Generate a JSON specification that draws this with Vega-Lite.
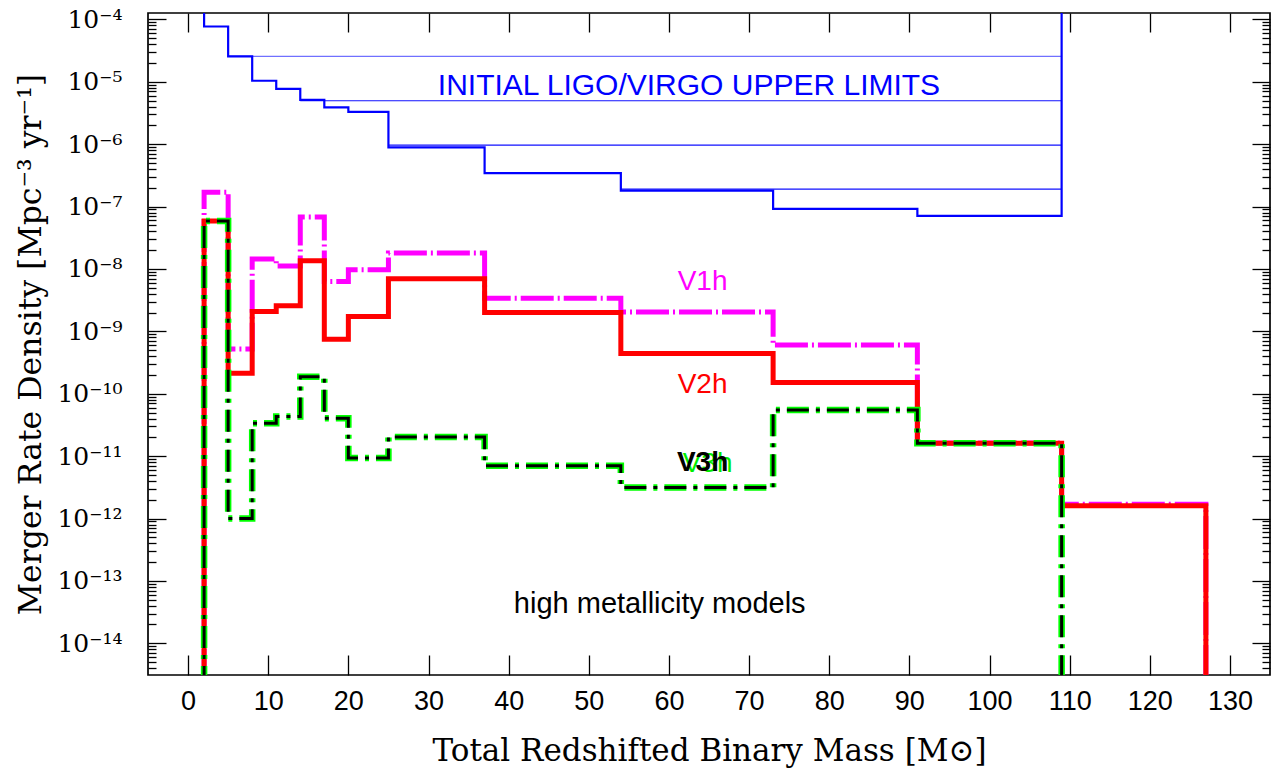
{
  "$schema": "https://vega.github.io/schema/vega-lite/v6.json",
  "width": 1122,
  "height": 662,
  "autosize": {"type": "none"},
  "padding": {"left": 148, "top": 13, "right": 4, "bottom": 98},
  "background": "white",
  "config": {"view": {"stroke": "black", "strokeWidth": 1.7}},
  "datasets": {
    "limits": [
      {"x": 5, "x2": 109, "y": 2.55e-5, "kind": "light"},
      {"x": 14, "x2": 109, "y": 4.97e-6, "kind": "dark"},
      {"x": 25, "x2": 109, "y": 9.7e-7, "kind": "dark"},
      {"x": 54, "x2": 109, "y": 1.9e-7, "kind": "dark"}
    ],
    "blue": [
      {"i": 0, "x": 2, "y": 1e-3},
      {"i": 1, "x": 2, "y": 7.7e-5},
      {"i": 2, "x": 5, "y": 2.55e-5},
      {"i": 3, "x": 8, "y": 1.04e-5},
      {"i": 4, "x": 11, "y": 7.7e-6},
      {"i": 5, "x": 14, "y": 5.15e-6},
      {"i": 6, "x": 17, "y": 3.9e-6},
      {"i": 7, "x": 20, "y": 3.3e-6},
      {"i": 8, "x": 25, "y": 8.9e-7},
      {"i": 9, "x": 37, "y": 3.45e-7},
      {"i": 10, "x": 54, "y": 1.8e-7},
      {"i": 11, "x": 73, "y": 9.2e-8},
      {"i": 12, "x": 91, "y": 7.1e-8},
      {"i": 13, "x": 109, "y": 7.1e-8},
      {"i": 14, "x": 109, "y": 1e-3}
    ],
    "v1h": [
      {"i": 0, "x": 2, "y": 1e-16},
      {"i": 1, "x": 2, "y": 1.7e-7},
      {"i": 2, "x": 5, "y": 5.2e-10},
      {"i": 3, "x": 8, "y": 1.44e-8},
      {"i": 4, "x": 11, "y": 1.12e-8},
      {"i": 5, "x": 14, "y": 6.8e-8},
      {"i": 6, "x": 17, "y": 6.3e-9},
      {"i": 7, "x": 20, "y": 9.7e-9},
      {"i": 8, "x": 25, "y": 1.8e-8},
      {"i": 9, "x": 37, "y": 3.4e-9},
      {"i": 10, "x": 54, "y": 2.05e-9},
      {"i": 11, "x": 73, "y": 6.05e-10},
      {"i": 12, "x": 91, "y": 1.62e-11},
      {"i": 13, "x": 109, "y": 1.7e-12},
      {"i": 14, "x": 127, "y": 1.7e-12},
      {"i": 15, "x": 127, "y": 1e-16}
    ],
    "v2h": [
      {"i": 0, "x": 2, "y": 1e-16},
      {"i": 1, "x": 2, "y": 5.9e-8},
      {"i": 2, "x": 5, "y": 2.13e-10},
      {"i": 3, "x": 8, "y": 2.08e-9},
      {"i": 4, "x": 11, "y": 2.57e-9},
      {"i": 5, "x": 14, "y": 1.35e-8},
      {"i": 6, "x": 17, "y": 7.5e-10},
      {"i": 7, "x": 20, "y": 1.73e-9},
      {"i": 8, "x": 25, "y": 7.0e-9},
      {"i": 9, "x": 37, "y": 2.0e-9},
      {"i": 10, "x": 54, "y": 4.4e-10},
      {"i": 11, "x": 73, "y": 1.51e-10},
      {"i": 12, "x": 91, "y": 1.61e-11},
      {"i": 13, "x": 109, "y": 1.6e-12},
      {"i": 14, "x": 127, "y": 1.6e-12},
      {"i": 15, "x": 127, "y": 1e-16}
    ],
    "v3h": [
      {"i": 0, "x": 2, "y": 1e-16},
      {"i": 1, "x": 2, "y": 5.9e-8},
      {"i": 2, "x": 5, "y": 1.0e-12},
      {"i": 3, "x": 8, "y": 3.37e-11},
      {"i": 4, "x": 11, "y": 4.3e-11},
      {"i": 5, "x": 14, "y": 1.88e-10},
      {"i": 6, "x": 17, "y": 4.05e-11},
      {"i": 7, "x": 20, "y": 9.3e-12},
      {"i": 8, "x": 25, "y": 2.03e-11},
      {"i": 9, "x": 37, "y": 7.0e-12},
      {"i": 10, "x": 54, "y": 3.15e-12},
      {"i": 11, "x": 73, "y": 5.5e-11},
      {"i": 12, "x": 91, "y": 1.61e-11},
      {"i": 13, "x": 109, "y": 1.61e-11},
      {"i": 14, "x": 109, "y": 1e-16}
    ]
  },
  "resolve": {"axis": {"x": "independent", "y": "independent"}},
  "layer": [
    {
      "data": {"name": "limits"},
      "mark": {"type": "rule", "strokeWidth": 1.2, "clip": true},
      "encoding": {
        "x": {"field": "x", "type": "quantitative",
          "scale": {"domain": [-5, 135], "nice": false, "zero": false},
          "axis": {"orient": "bottom", "values": [0,10,20,30,40,50,60,70,80,90,100,110,120,130],
            "tickSize": -20, "tickWidth": 1.3, "tickColor": "black", "domain": false, "grid": false,
            "labelFont": "Liberation Sans", "labelFontSize": 27, "labelColor": "black", "labelPadding": 33,
            "labelFlush": false, "labelOverlap": false,
            "title": "Total Redshifted Binary Mass [M⊙]", "titleFont": "DejaVu Serif", "titleFontSize": 31,
            "titleFontWeight": "normal", "titleColor": "black", "titleBaseline": "alphabetic", "titleY": 85}},
        "x2": {"field": "x2"},
        "y": {"field": "y", "type": "quantitative",
          "scale": {"type": "log", "domain": [3.1e-15, 1.268e-4], "nice": false},
          "axis": {"orient": "left", "values": [1e-14,1e-13,1e-12,1e-11,1e-10,1e-9,1e-8,1e-7,1e-6,1e-5,1e-4],
            "tickSize": -18, "tickWidth": 1.3, "tickColor": "black", "domain": false, "grid": false,
            "labelFont": "DejaVu Serif", "labelFontSize": 25, "labelColor": "black", "labelPadding": 44,
            "labelFlush": false, "labelOverlap": false, "labelBaseline": "middle",
            "labelExpr": "'10⁻' + (round(-log(datum.value)/LN10) >= 10 ? '¹' : '') + ['⁰','¹','²','³','⁴','⁵','⁶','⁷','⁸','⁹'][round(-log(datum.value)/LN10) % 10]",
            "title": "Merger Rate Density [Mpc⁻³ yr⁻¹]", "titleFont": "DejaVu Serif", "titleFontSize": 31.5,
            "titleFontWeight": "normal", "titleColor": "black", "titleBaseline": "alphabetic", "titleX": -108, "titleY": 331}},
        "color": {"field": "kind", "type": "nominal", "scale": {"domain": ["light", "dark"], "range": ["#7070ff", "#1010ff"]}, "legend": null}
      }
    },
    {
      "data": {"name": "blue"},
      "mark": {"type": "line", "interpolate": "step-after", "color": "#0000ff", "strokeWidth": 2.2, "clip": true},
      "encoding": {
        "x": {"field": "x", "type": "quantitative", "scale": {"domain": [-5, 135], "nice": false, "zero": false},
          "axis": {"orient": "top", "values": [0,10,20,30,40,50,60,70,80,90,100,110,120,130],
            "tickSize": -19, "tickWidth": 1.3, "tickColor": "black", "domain": false, "grid": false, "labels": false, "title": null}},
        "y": {"field": "y", "type": "quantitative", "scale": {"type": "log", "domain": [3.1e-15, 1.268e-4], "nice": false},
          "axis": {"orient": "left", "values": [4e-15,5e-15,6e-15,7e-15,8e-15,9e-15,
              2e-14,3e-14,4e-14,5e-14,6e-14,7e-14,8e-14,9e-14,
              2e-13,3e-13,4e-13,5e-13,6e-13,7e-13,8e-13,9e-13,
              2e-12,3e-12,4e-12,5e-12,6e-12,7e-12,8e-12,9e-12,
              2e-11,3e-11,4e-11,5e-11,6e-11,7e-11,8e-11,9e-11,
              2e-10,3e-10,4e-10,5e-10,6e-10,7e-10,8e-10,9e-10,
              2e-9,3e-9,4e-9,5e-9,6e-9,7e-9,8e-9,9e-9,
              2e-8,3e-8,4e-8,5e-8,6e-8,7e-8,8e-8,9e-8,
              2e-7,3e-7,4e-7,5e-7,6e-7,7e-7,8e-7,9e-7,
              2e-6,3e-6,4e-6,5e-6,6e-6,7e-6,8e-6,9e-6,
              2e-5,3e-5,4e-5,5e-5,6e-5,7e-5,8e-5,9e-5],
            "tickSize": -8, "tickWidth": 1.3, "tickColor": "black", "domain": false, "grid": false, "labels": false, "title": null}},
        "order": {"field": "i", "type": "quantitative"}
      }
    },
    {
      "data": {"name": "v1h"},
      "mark": {"type": "line", "interpolate": "step-after", "color": "#ff00ff", "strokeWidth": 5, "strokeDash": [33, 4, 2, 4], "clip": true},
      "encoding": {
        "x": {"field": "x", "type": "quantitative", "scale": {"domain": [-5, 135], "nice": false, "zero": false}, "axis": null},
        "y": {"field": "y", "type": "quantitative", "scale": {"type": "log", "domain": [3.1e-15, 1.268e-4], "nice": false},
          "axis": {"orient": "right", "values": [1e-14,1e-13,1e-12,1e-11,1e-10,1e-9,1e-8,1e-7,1e-6,1e-5,1e-4],
            "tickSize": -18, "tickWidth": 1.3, "tickColor": "black", "domain": false, "grid": false, "labels": false, "title": null}},
        "order": {"field": "i", "type": "quantitative"}
      }
    },
    {
      "data": {"name": "v2h"},
      "mark": {"type": "line", "interpolate": "step-after", "color": "#ff0000", "strokeWidth": 5, "clip": true},
      "encoding": {
        "x": {"field": "x", "type": "quantitative", "scale": {"domain": [-5, 135], "nice": false, "zero": false}, "axis": null},
        "y": {"field": "y", "type": "quantitative", "scale": {"type": "log", "domain": [3.1e-15, 1.268e-4], "nice": false},
          "axis": {"orient": "right", "values": [4e-15,5e-15,6e-15,7e-15,8e-15,9e-15,
              2e-14,3e-14,4e-14,5e-14,6e-14,7e-14,8e-14,9e-14,
              2e-13,3e-13,4e-13,5e-13,6e-13,7e-13,8e-13,9e-13,
              2e-12,3e-12,4e-12,5e-12,6e-12,7e-12,8e-12,9e-12,
              2e-11,3e-11,4e-11,5e-11,6e-11,7e-11,8e-11,9e-11,
              2e-10,3e-10,4e-10,5e-10,6e-10,7e-10,8e-10,9e-10,
              2e-9,3e-9,4e-9,5e-9,6e-9,7e-9,8e-9,9e-9,
              2e-8,3e-8,4e-8,5e-8,6e-8,7e-8,8e-8,9e-8,
              2e-7,3e-7,4e-7,5e-7,6e-7,7e-7,8e-7,9e-7,
              2e-6,3e-6,4e-6,5e-6,6e-6,7e-6,8e-6,9e-6,
              2e-5,3e-5,4e-5,5e-5,6e-5,7e-5,8e-5,9e-5],
            "tickSize": -8, "tickWidth": 1.3, "tickColor": "black", "domain": false, "grid": false, "labels": false, "title": null}},
        "order": {"field": "i", "type": "quantitative"}
      }
    },
    {
      "data": {"name": "v3h"},
      "mark": {"type": "line", "interpolate": "step-after", "color": "#00ff00", "strokeWidth": 6.5, "strokeDash": [22, 7, 4, 7], "clip": true},
      "encoding": {
        "x": {"field": "x", "type": "quantitative", "scale": {"domain": [-5, 135], "nice": false, "zero": false}, "axis": null},
        "y": {"field": "y", "type": "quantitative", "scale": {"type": "log", "domain": [3.1e-15, 1.268e-4], "nice": false}, "axis": null},
        "order": {"field": "i", "type": "quantitative"}
      }
    },
    {
      "data": {"name": "v3h"},
      "mark": {"type": "line", "interpolate": "step-after", "color": "#000000", "strokeWidth": 3, "strokeDash": [22, 7, 4, 7], "clip": true},
      "encoding": {
        "x": {"field": "x", "type": "quantitative", "scale": {"domain": [-5, 135], "nice": false, "zero": false}, "axis": null},
        "y": {"field": "y", "type": "quantitative", "scale": {"type": "log", "domain": [3.1e-15, 1.268e-4], "nice": false}, "axis": null},
        "order": {"field": "i", "type": "quantitative"}
      }
    },
    {
      "data": {"values": [{"label": "INITIAL LIGO/VIRGO UPPER LIMITS", "x": 62.5, "y": 6.2e-6}]},
      "mark": {"type": "text", "font": "Liberation Sans", "fontSize": 30, "color": "#0000ff", "align": "center", "baseline": "alphabetic"},
      "encoding": {
        "x": {"field": "x", "type": "quantitative", "axis": null},
        "y": {"field": "y", "type": "quantitative", "axis": null},
        "text": {"field": "label"}
      }
    },
    {
      "data": {"values": [{"label": "V1h", "x": 64.2, "y": 4.63e-9}]},
      "mark": {"type": "text", "font": "Liberation Sans", "fontSize": 28, "color": "#ff00ff", "align": "center", "baseline": "alphabetic"},
      "encoding": {
        "x": {"field": "x", "type": "quantitative", "axis": null},
        "y": {"field": "y", "type": "quantitative", "axis": null},
        "text": {"field": "label"}
      }
    },
    {
      "data": {"values": [{"label": "V2h", "x": 64.2, "y": 1.04e-10}]},
      "mark": {"type": "text", "font": "Liberation Sans", "fontSize": 28, "color": "#ff0000", "align": "center", "baseline": "alphabetic"},
      "encoding": {
        "x": {"field": "x", "type": "quantitative", "axis": null},
        "y": {"field": "y", "type": "quantitative", "axis": null},
        "text": {"field": "label"}
      }
    },
    {
      "data": {"values": [{"label": "V3h", "x": 64.2, "y": 5.8e-12}]},
      "mark": {"type": "text", "font": "Liberation Sans", "fontSize": 28, "color": "#00ee00", "align": "center", "baseline": "alphabetic", "dx": 5, "dy": 1},
      "encoding": {
        "x": {"field": "x", "type": "quantitative", "axis": null},
        "y": {"field": "y", "type": "quantitative", "axis": null},
        "text": {"field": "label"}
      }
    },
    {
      "data": {"values": [{"label": "V3h", "x": 64.2, "y": 5.8e-12}]},
      "mark": {"type": "text", "font": "Liberation Sans", "fontSize": 28, "fontWeight": "bold", "color": "#000000", "align": "center", "baseline": "alphabetic"},
      "encoding": {
        "x": {"field": "x", "type": "quantitative", "axis": null},
        "y": {"field": "y", "type": "quantitative", "axis": null},
        "text": {"field": "label"}
      }
    },
    {
      "data": {"values": [{"label": "high metallicity models", "x": 58.85, "y": 3.03e-14}]},
      "mark": {"type": "text", "font": "Liberation Sans", "fontSize": 29, "color": "#000000", "align": "center", "baseline": "alphabetic"},
      "encoding": {
        "x": {"field": "x", "type": "quantitative", "axis": null},
        "y": {"field": "y", "type": "quantitative", "axis": null},
        "text": {"field": "label"}
      }
    }
  ]
}
